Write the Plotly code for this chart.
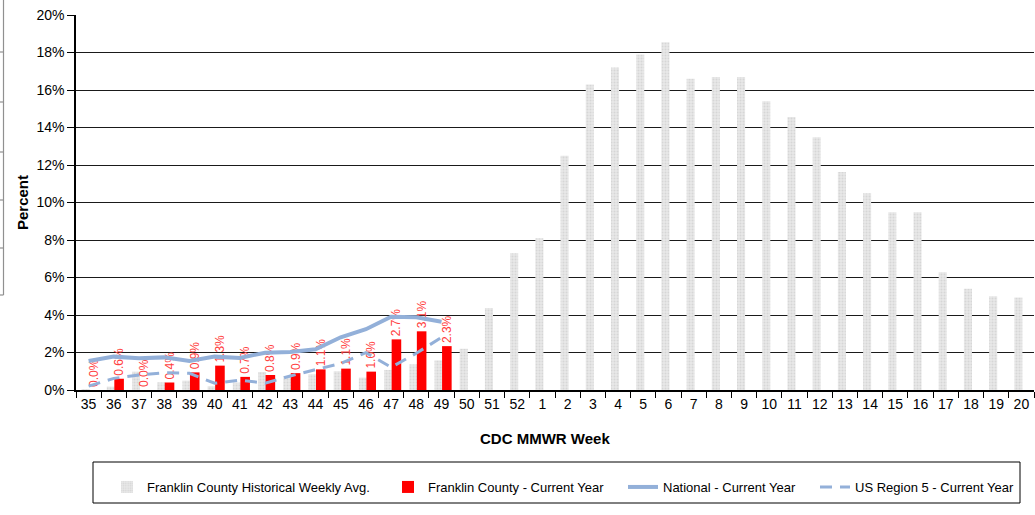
import plotly.graph_objects as go

weeks = [str(w) for w in list(range(35, 53)) + list(range(1, 21))]

historical = [0.05, 0.18, 0.98, 0.41, 0.5, 0.2, 0.4, 0.96, 0.75, 0.84, 1.0, 0.66, 1.07, 1.37, 1.58,
              2.2, 4.37, 7.3, 8.1, 12.5, 16.3, 17.2, 17.9, 18.55, 16.6, 16.7, 16.7, 15.4, 14.56,
              13.48, 11.63, 10.5, 9.48, 9.48, 6.28, 5.4, 5.0, 4.94]

current_weeks = [str(w) for w in range(35, 50)]
current = [0.0, 0.6, 0.0, 0.4, 0.94, 1.3, 0.7, 0.8, 0.9, 1.1, 1.14, 0.98, 2.7, 3.13, 2.34]

national = [1.55, 1.78, 1.69, 1.74, 1.55, 1.78, 1.71, 1.99, 2.03, 2.17, 2.81, 3.24, 3.91, 3.88, 3.64]
region5 = [0.21, 0.62, 0.8, 0.92, 0.89, 0.36, 0.53, 0.36, 0.75, 1.07, 1.42, 1.99, 1.21, 1.96, 2.81]

FONT = "Liberation Sans, Arial, sans-serif"
LINE_COLOR = "#93b0d9"

fig = go.Figure()

fig.add_trace(go.Bar(
    x=weeks, y=historical, name="Franklin County Historical Weekly Avg.",
    width=0.32, offset=-0.28, legend="legend",
    marker=dict(color="#e4e4e4", line=dict(width=0),
                pattern=dict(shape=".", fgcolor="#c4c4c4", bgcolor="#e8e8e8", size=3, solidity=0.35)),
))

fig.add_trace(go.Bar(
    x=current_weeks, y=current, name="Franklin County - Current Year",
    width=0.38, offset=0.02, legend="legend2",
    marker=dict(color="#ff0000", line=dict(width=0)),
    text=[f"{v:.1f}%" for v in current], textposition="outside", textangle=-90,
    constraintext="none",
    textfont=dict(color="#ff4040", size=12, family=FONT), cliponaxis=False,
))

fig.add_trace(go.Scatter(
    x=current_weeks, y=national, name="National - Current Year", mode="lines",
    legend="legend3",
    line=dict(color=LINE_COLOR, width=4),
))

fig.add_trace(go.Scatter(
    x=current_weeks, y=region5, name="US Region 5 - Current Year", mode="lines",
    legend="legend4",
    line=dict(color=LINE_COLOR, width=3, dash="12px,8px"),
))

W, H = 1035, 515
L, R, T, B = 76, 1, 15, 125
pw, ph = W - L - R, H - T - B

def px_x(x):
    return (x - L) / pw

def px_y(y):
    return (H - B - y) / ph

shapes = [
    # legend box
    dict(type="rect", xref="paper", yref="paper",
         x0=px_x(93), x1=px_x(1020), y0=px_y(462), y1=px_y(503),
         line=dict(color="#000000", width=1), fillcolor="rgba(0,0,0,0)"),
    # partial element at the left edge
    dict(type="line", xref="paper", yref="paper",
         x0=px_x(3.5), x1=px_x(3.5), y0=px_y(0), y1=px_y(295),
         line=dict(color="#909090", width=1.2)),
]
for ty in [52, 102, 152, 200, 248, 295]:
    shapes.append(dict(type="line", xref="paper", yref="paper",
                       x0=px_x(0), x1=px_x(3.5), y0=px_y(ty), y1=px_y(ty),
                       line=dict(color="#909090", width=1.2)))

def legend_at(text_start_px):
    return dict(orientation="h", x=px_x(text_start_px - 40), xanchor="left",
                y=px_y(487), yanchor="middle",
                font=dict(size=13, family=FONT, color="#000000"),
                bgcolor="rgba(0,0,0,0)", borderwidth=0)

fig.update_layout(
    width=W, height=H, autosize=False,
    margin=dict(l=L, r=R, t=T, b=B, pad=0),
    paper_bgcolor="white", plot_bgcolor="white",
    barmode="overlay",
    font=dict(family=FONT, color="#000000"),
    showlegend=True,
    legend=legend_at(147),
    legend2=legend_at(428),
    legend3=legend_at(663),
    legend4=legend_at(855),
    shapes=shapes,
    annotations=[dict(text="<b>CDC MMWR Week</b>", xref="paper", yref="paper",
                      x=px_x(544.5), y=px_y(438), xanchor="center", yanchor="middle",
                      showarrow=False, font=dict(size=15, family=FONT, color="#000000"))],
    xaxis=dict(
        type="category", categoryorder="array", categoryarray=weeks,
        range=[-0.5, len(weeks) - 0.5],
        showline=True, linecolor="#000000", linewidth=1.5,
        ticks="outside", tickson="boundaries", ticklen=6, tickcolor="#000000", tickwidth=1,
        tickfont=dict(size=14, family=FONT), showgrid=False,
    ),
    yaxis=dict(
        range=[0, 20], tickvals=list(range(0, 21, 2)),
        ticktext=[f"{v}%" for v in range(0, 21, 2)],
        showline=True, linecolor="#000000", linewidth=1.5,
        ticks="outside", ticklen=7, tickcolor="#000000",
        tickfont=dict(size=14, family=FONT),
        showgrid=True, gridcolor="#1a1a1a", gridwidth=1, zeroline=False,
        title=dict(text="<b>Percent</b>", font=dict(size=15, family=FONT), standoff=4),
    ),
)

fig.write_html("out.html", config={"displayModeBar": False},
               post_script="document.body.style.margin='0';document.body.style.overflow='hidden';")
